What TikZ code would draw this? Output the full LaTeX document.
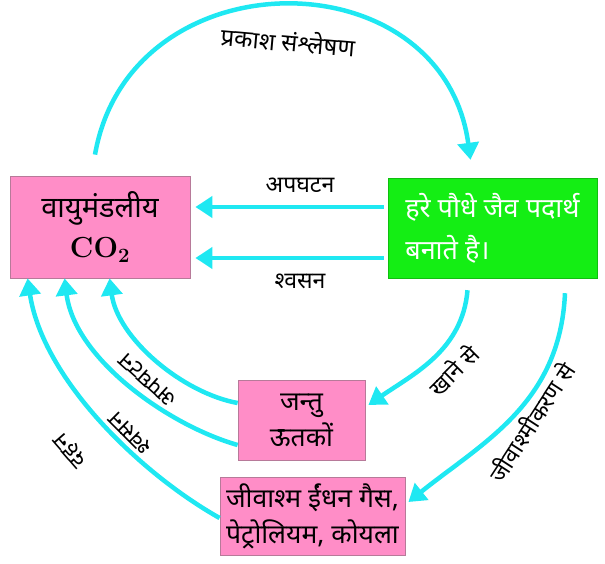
\documentclass[tikz,border=0pt]{standalone}
\usepackage{fontspec}
\newfontfamily\hindi[Script=Devanagari]{Noto Sans}
\definecolor{boxpink}{HTML}{FF8DC7}
\definecolor{pinkedge}{HTML}{B77A99}
\definecolor{leafgreen}{HTML}{14EE14}
\definecolor{cyclecyan}{HTML}{1FE8F2}
\usetikzlibrary{arrows.meta,positioning,calc}

\begin{document}
\begin{tikzpicture}[x=1pt,y=1pt,
    pinkbox/.style={draw=pinkedge,fill=boxpink,line width=0.8pt,align=center,inner sep=0pt},
    flow/.style={cyclecyan,line width=4.5pt,-{Triangle[length=17pt,width=21pt]}},
    lbl/.style={font=\hindi\fontsize{23}{25}\selectfont}]
    \useasboundingbox (0,0) rectangle (605,563);
    % boxes
    \node[pinkbox,minimum width=180pt,minimum height=102pt,font=\bfseries\fontsize{29}{40}\selectfont] (co2) at (100,336) {{\hindi वायुमंडलीय}\\CO\textsubscript{2}};
    \node[draw=leafgreen!80!black,fill=leafgreen,minimum width=209pt,minimum height=100pt,align=left,text=white,inner sep=0pt,font=\hindi\fontsize{27}{42}\selectfont] (plant) at (492.5,335) {हरे पौधे जैव पदार्थ\\बनाते है।};
    \node[pinkbox,minimum width=127pt,minimum height=80pt,font=\hindi\fontsize{26.5}{36}\selectfont] (animal) at (301.5,143) {जन्तु\\ऊतकों};
    \node[pinkbox,minimum width=185pt,minimum height=78pt,font=\hindi\fontsize{26.5}{36}\selectfont] (fossil) at (312.5,47) {जीवाश्म ईंधन गैस,\\पेट्रोलियम, कोयला};
    % photosynthesis
    \draw[flow] ([shift={(-5,21)}]co2.north) .. controls +(35,200) and +(-28,205) .. ([shift={(-22,18)}]plant.north);
    \node[lbl,rotate=-5,font=\hindi\fontsize{24}{26}\selectfont] (photo) at (288,522) {प्रकाश संश्लेषण};
    % back to the air
    \draw[flow,shorten <=4pt,shorten >=5pt] ([yshift=21]plant.west) -- ([yshift=20]co2.east);
    \draw[flow,shorten <=4pt,shorten >=5pt] ([yshift=-30]plant.west) -- ([yshift=-31]co2.east);
    \node[lbl] (decay) at (300,378) {अपघटन};
    \node[lbl] (resp) at (300,282) {श्वसन};
    % down the chain
    \draw[flow] ([shift={(-25,-12)}]plant.south) .. controls +(-5,-60) and +(45,31) .. ([shift={(3,15)}]animal.east);
    \node[lbl,rotate=45] (eat) at (453,193) {खाने से};
    \draw[flow] ([shift={(72.5,-15)}]plant.south) .. controls +(-5,-110) and +(75,60) .. ([shift={(3,14)}]fossil.east);
    \node[lbl,rotate=57] (fossilize) at (531,141) {जीवाश्मीकरण से};
    % returning arcs
    \draw[flow] ([yshift=17]animal.west) .. controls +(-55,10) and +(8,-60) .. ([shift={(100,0)}]co2.south west);
    \draw[flow] ([yshift=-25]animal.west) .. controls +(-70,20) and +(10,-80) .. ([shift={(55,0)}]co2.south west);
    \draw[flow] ([yshift=-2]fossil.west) .. controls +(-80,45) and +(15,-100) .. ([shift={(18,0)}]co2.south west);
    \node[lbl,rotate=138] (decay2) at (148,183) {अपघटन};
    \node[lbl,rotate=135] (resp2) at (130,130) {श्वसन};
    \node[lbl,rotate=131] (burn) at (71,113) {दहन};
\end{tikzpicture}
\end{document}
